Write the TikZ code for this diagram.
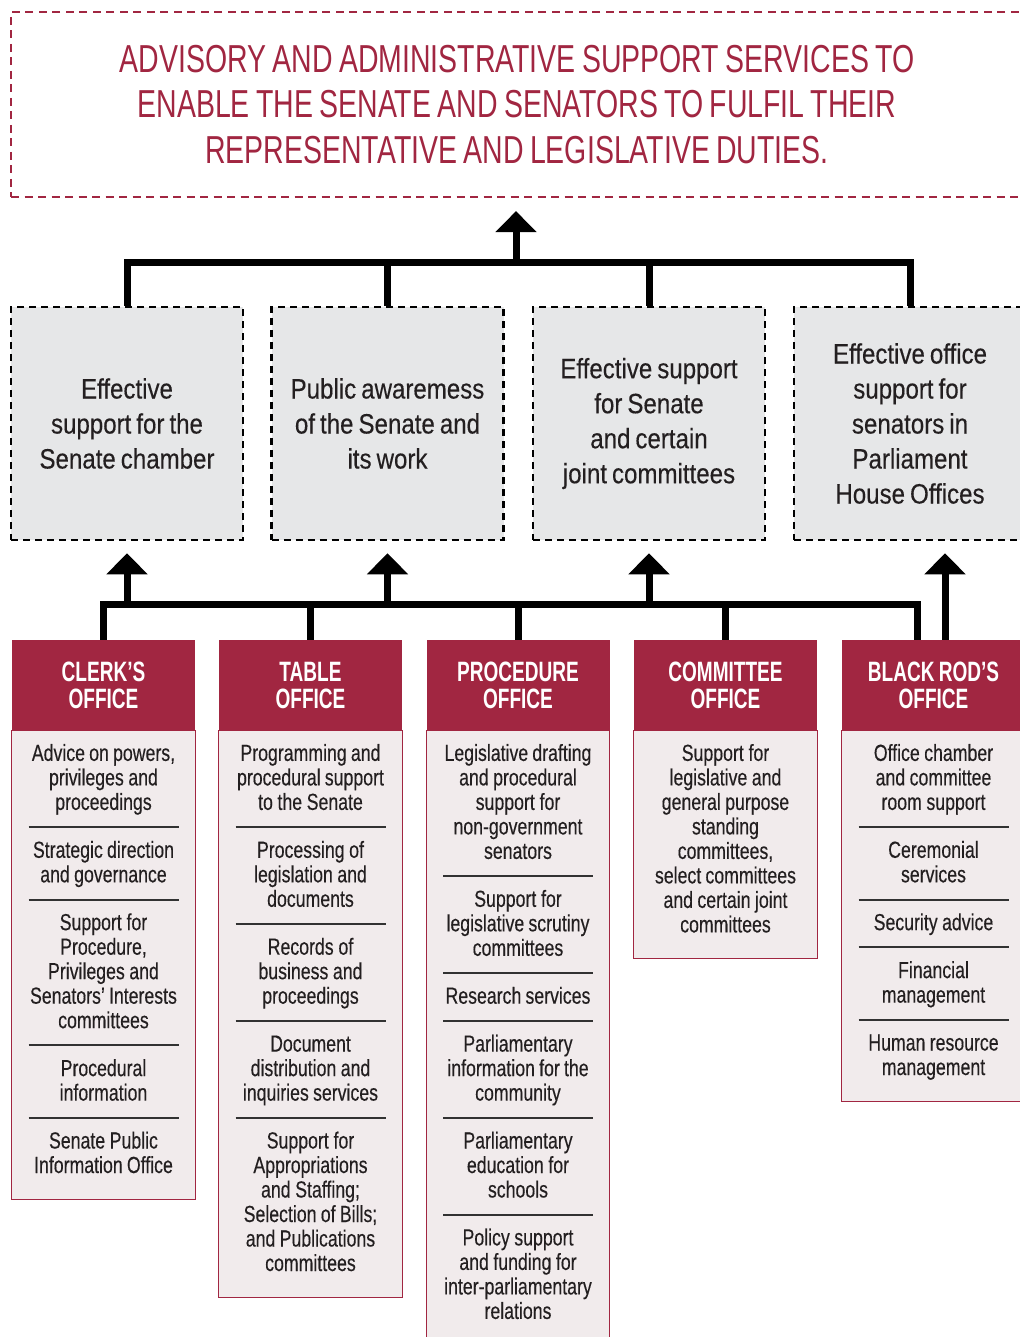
\documentclass[tikz,border=0pt]{standalone}
\usepackage{fontspec}
\setmainfont{Liberation Sans}
\newfontfamily\goalfont{Liberation Sans}[FakeStretch=0.73,WordSpace=0.8]
\newfontfamily\aimfont{Liberation Sans}[FakeStretch=0.86,WordSpace=0.75,FakeBold=0.3]
\newfontfamily\headfont{Liberation Sans}[FakeStretch=0.68,WordSpace=0.8]
\newfontfamily\dutyfont{Liberation Sans}[FakeStretch=0.76,FakeBold=0.3]
\usetikzlibrary{arrows.meta,positioning,backgrounds}
\definecolor{senate}{RGB}{161,38,65}
\definecolor{paper}{RGB}{241,235,236}
\definecolor{mist}{RGB}{230,231,232}
\definecolor{ink}{RGB}{35,31,32}
\definecolor{rulegrey}{RGB}{50,50,50}
\tikzset{
  >={Triangle[width=40pt,length=21pt]},
  goal/.style={draw=senate,line width=2.2pt,dash pattern=on 8pt off 5.5pt,
    minimum width=1012pt,minimum height=185pt,align=center,text=senate,
    font=\goalfont\fontsize{39}{45.5}\selectfont},
  aim/.style={draw=black,fill=mist,line width=2.5pt,dash pattern=on 7pt off 5pt,
    minimum width=232pt,minimum height=233pt,inner sep=0pt,align=center,text=ink,
    font=\aimfont\fontsize{28}{35}\selectfont},
  officehead/.style={fill=senate,text=white,minimum width=183pt,minimum height=90pt,
    inner sep=0pt,align=center,font=\headfont\bfseries\fontsize{28}{27}\selectfont},
  duty/.style={text width=180pt,inner xsep=0pt,inner ysep=11.5pt,align=center,
    text=ink,font=\dutyfont\fontsize{23.3}{24.5}\selectfont,
    execute at begin node={\spaceskip=3.8pt plus 1pt minus 1pt\rule{0pt}{19pt}},
    execute at end node={\rule[-5.5pt]{0pt}{5.5pt}}},
  body/.style={draw=senate,fill=paper,line width=1.3pt},
  divider/.style={draw=rulegrey,line width=2pt},
  bus/.style={line width=7pt,line join=miter},
  lift/.style={->,line width=7pt,shorten >=12pt},
}

\begin{document}
\begin{tikzpicture}[x=1pt,y=-1pt]
  \begin{scope}[on background layer]
    \fill[white] (0,0) rectangle (1019,1337);
  \end{scope}
  \useasboundingbox (0,0) rectangle (1019,1337);

  % purpose and outcomes
  \node[goal] (goal) at (517,104.5) {ADVISORY AND ADMINISTRATIVE SUPPORT SERVICES TO\\ENABLE THE SENATE AND SENATORS TO FULFIL THEIR\\REPRESENTATIVE AND LEGISLATIVE DUTIES.};
  \node[aim] (o1) at (127,423.5) {Effective\\support for the\\Senate chamber};
  \node[aim] (o2) at (387.5,423.5) {Public awaremess\\of the Senate and\\its work};
  \node[aim] (o3) at (649,423.5) {Effective support\\for Senate\\and certain\\joint committees};
  \node[aim] (o4) at (910,423.5) {Effective office\\support for\\senators in\\Parliament\\House Offices};

  \coordinate (topbus) at (516,263);
  \draw[bus] (o1.north) |- (topbus) -| (o4.north);
  \foreach \i in {2,3} \draw[bus] (o\i.north) -- (o\i.north |- topbus);
  \draw[lift,shorten >=13pt] (topbus) -- (topbus |- goal.south);

  % offices
  \node[officehead,alias=d1-0] (h1) at (103.5,685) {CLERK’S\\OFFICE};
  \node[officehead,alias=d2-0] (h2) at (310.5,685) {TABLE\\OFFICE};
  \node[officehead,alias=d3-0] (h3) at (518,685) {PROCEDURE\\OFFICE};
  \node[officehead,alias=d4-0] (h4) at (725.5,685) {COMMITTEE\\OFFICE};
  \node[officehead,alias=d5-0] (h5) at (933.5,685) {BLACK ROD’S\\OFFICE};

  \foreach \t [count=\k, remember=\k as \j (initially 0)] in {
    {Advice on powers,\\privileges and\\proceedings},
    {Strategic direction\\and governance},
    {Support for\\Procedure,\\Privileges and\\Senators’ Interests\\committees},
    {Procedural\\information},
    {Senate Public\\Information Office}}{
    \node[duty,below=0pt of d1-\j] (d1-\k) {\t};
    \ifnum\k>1 \draw[divider] ([xshift=-75pt]d1-\j.south) -- ([xshift=75pt]d1-\j.south);\fi
  }
  \foreach \t [count=\k, remember=\k as \j (initially 0)] in {
    {Programming and\\procedural support\\to the Senate},
    {Processing of\\legislation and\\documents},
    {Records of\\business and\\proceedings},
    {Document\\distribution and\\inquiries services},
    {Support for\\Appropriations\\and Staffing;\\Selection of Bills;\\and Publications\\committees}}{
    \node[duty,below=0pt of d2-\j] (d2-\k) {\t};
    \ifnum\k>1 \draw[divider] ([xshift=-75pt]d2-\j.south) -- ([xshift=75pt]d2-\j.south);\fi
  }
  \foreach \t [count=\k, remember=\k as \j (initially 0)] in {
    {Legislative drafting\\and procedural\\support for\\non-government\\senators},
    {Support for\\legislative scrutiny\\committees},
    {Research services},
    {Parliamentary\\information for the\\community},
    {Parliamentary\\education for\\schools},
    {Policy support\\and funding for\\inter-parliamentary\\relations}}{
    \node[duty,below=0pt of d3-\j] (d3-\k) {\t};
    \ifnum\k>1 \draw[divider] ([xshift=-75pt]d3-\j.south) -- ([xshift=75pt]d3-\j.south);\fi
  }
  \node[duty,below=0pt of h4] (d4-1) {Support for\\legislative and\\general purpose\\standing\\committees,\\select committees\\and certain joint\\committees};
  \foreach \t [count=\k, remember=\k as \j (initially 0)] in {
    {Office chamber\\and committee\\room support},
    {Ceremonial\\services},
    {Security advice},
    {Financial\\management},
    {Human resource\\management}}{
    \node[duty,below=0pt of d5-\j] (d5-\k) {\t};
    \ifnum\k>1 \draw[divider] ([xshift=-75pt]d5-\j.south) -- ([xshift=75pt]d5-\j.south);\fi
  }

  % office panels behind the duties
  \foreach \c/\n in {1/5,2/5,3/6,4/1,5/5}{
    \path (d\c-\n.south) ++(0,9) coordinate (b\c);
    \begin{scope}[on background layer]
      \draw[body] (h\c.south west) rectangle (b\c -| h\c.east);
    \end{scope}
  }

  % links from offices to outcomes
  \coordinate (lowbus) at (518,604);
  \coordinate (rodbus) at ([xshift=-16.5pt]h5.north);
  \coordinate (rod) at ([xshift=11.5pt]h5.north);
  \draw[bus] (h1.north) |- (lowbus) -| (rodbus);
  \foreach \i in {2,3,4} \draw[bus] (h\i.north) -- (h\i.north |- lowbus);
  \foreach \i in {1,2,3} \draw[lift] (o\i.south |- lowbus) -- (o\i.south);
  \draw[lift] (rod) -- (rod |- o4.south);
\end{tikzpicture}
\end{document}
